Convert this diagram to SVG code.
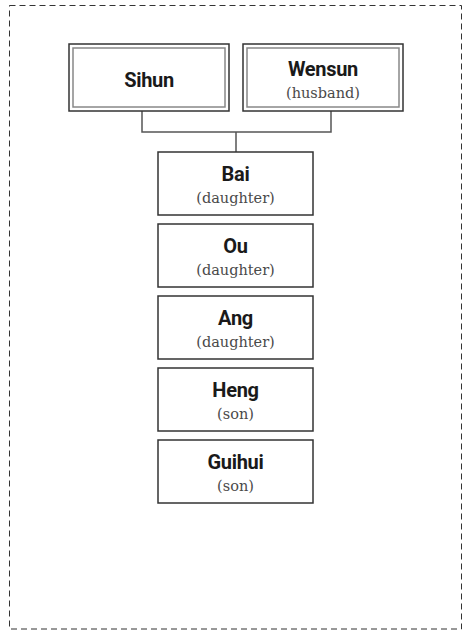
<svg xmlns="http://www.w3.org/2000/svg" width="463" height="631" viewBox="0 0 463 631">
<style>
.frame{fill:none;stroke:#333;stroke-width:1;stroke-dasharray:6 4}
.outer{fill:#fff;stroke:#333;stroke-width:1.5}
.inner{fill:none;stroke:#888;stroke-width:1.5}
.box{fill:#fff;stroke:#333;stroke-width:1.5}
.conn{fill:none;stroke:#555;stroke-width:1.5}
.name{font-family:Roboto,"Liberation Sans",sans-serif;font-weight:700;font-size:20px;letter-spacing:-0.3px;fill:#1a1a1a;text-anchor:middle}
.role{font-family:"DejaVu Serif","Liberation Serif",serif;font-size:14.5px;fill:#4a4a4a;text-anchor:middle}
</style>
<rect class="frame" x="9.5" y="5.5" width="452" height="623.5"/>
<g id="connectors">
<path class="conn" d="M142 111 V132 H331 V111 M236 132 V152"/>
</g>
<g id="sihun">
<rect class="outer" x="69" y="44" width="160" height="67"/>
<rect class="inner" x="73" y="48" width="152" height="59"/>
<text class="name" x="149" y="87">Sihun</text>
</g>
<g id="wensun">
<rect class="outer" x="243" y="44" width="160" height="67"/>
<rect class="inner" x="247" y="48" width="152" height="59"/>
<text class="name" x="323" y="76">Wensun</text>
<text class="role" x="323" y="98">(husband)</text>
</g>
<g id="bai">
<rect class="box" x="158" y="152" width="155" height="63"/>
<text class="name" x="235.5" y="181">Bai</text>
<text class="role" x="235.5" y="203">(daughter)</text>
</g>
<g id="ou">
<rect class="box" x="158" y="224" width="155" height="63"/>
<text class="name" x="235.5" y="253">Ou</text>
<text class="role" x="235.5" y="275">(daughter)</text>
</g>
<g id="ang">
<rect class="box" x="158" y="296" width="155" height="63"/>
<text class="name" x="235.5" y="325">Ang</text>
<text class="role" x="235.5" y="347">(daughter)</text>
</g>
<g id="heng">
<rect class="box" x="158" y="368" width="155" height="63"/>
<text class="name" x="235.5" y="397">Heng</text>
<text class="role" x="235.5" y="419">(son)</text>
</g>
<g id="guihui">
<rect class="box" x="158" y="440" width="155" height="63"/>
<text class="name" x="235.5" y="469">Guihui</text>
<text class="role" x="235.5" y="491">(son)</text>
</g>
</svg>
